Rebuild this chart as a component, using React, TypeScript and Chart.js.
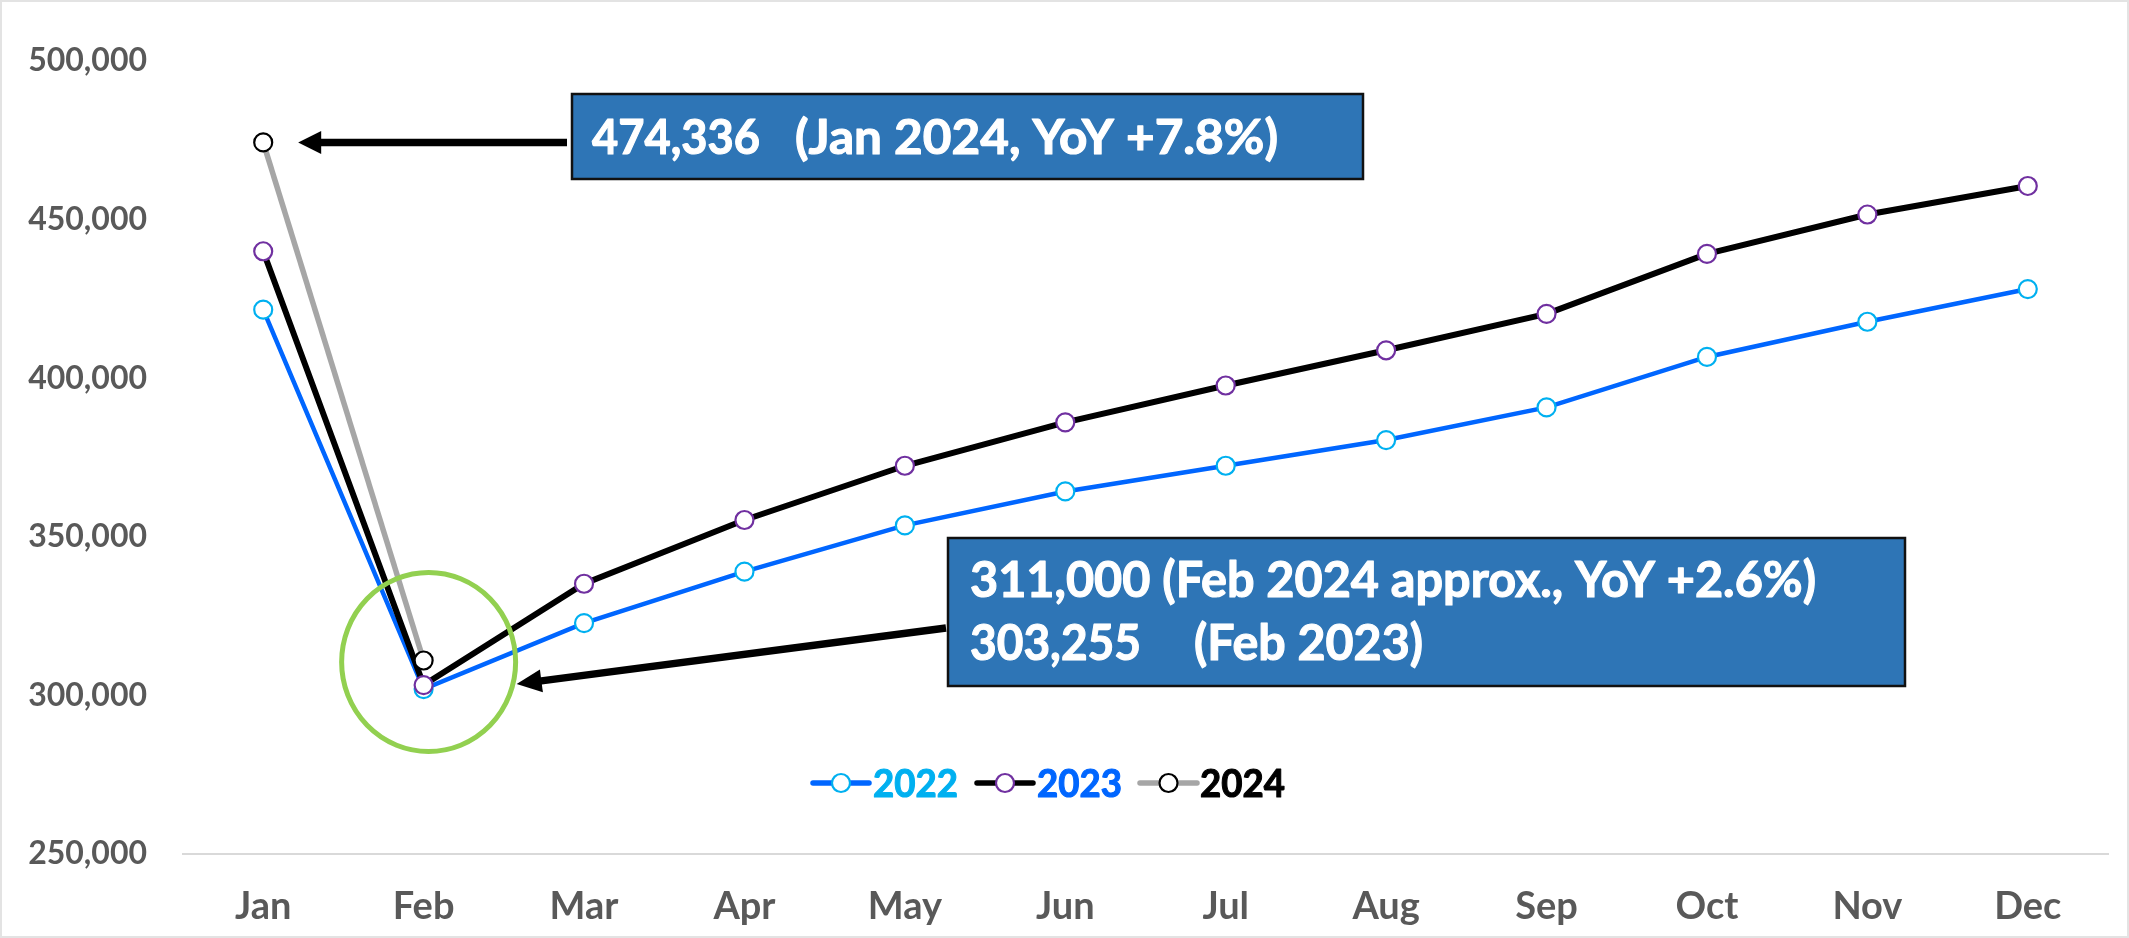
import React, { useEffect, useRef } from 'react';
import { Chart, registerables } from 'chart.js';

Chart.register(...registerables);

// ---------- data ----------
const months = ['Jan', 'Feb', 'Mar', 'Apr', 'May', 'Jun', 'Jul', 'Aug', 'Sep', 'Oct', 'Nov', 'Dec'];
const sales2022 = [421600, 302000, 322800, 339000, 353600, 364300, 372400, 380500, 390800, 406700, 417800, 428100];
const sales2023 = [440015, 303255, 335200, 355300, 372400, 386100, 397700, 408800, 420300, 439200, 451600, 460600];
const sales2024 = [474336, 311000, null, null, null, null, null, null, null, null, null, null];
const yTicks = [250000, 300000, 350000, 400000, 450000, 500000];
const seriesNames = ['2022', '2023', '2024'];
const noteJan = ['474,336', '(Jan 2024, YoY +7.8%)'];
const noteFebLine1 = '311,000 (Feb 2024 approx., YoY +2.6%)';
const noteFebLine2 = ['303,255', '(Feb 2023)'];

// ---------- styles ----------
const W = 2129;
const H = 938;
const FONT = 'Lato';
const WEIGHT = 'bold';
const AXIS_TEXT = '#595959';
const BOX_FILL = '#2E75B6';

const seriesStyle = [
  { line: '#0066FF', width: 4.5, marker: '#00B0F0', text: '#00B0F0' },
  { line: '#000000', width: 6, marker: '#7030A0', text: '#0066FF' },
  { line: '#A6A6A6', width: 5.5, marker: '#000000', text: '#000000' },
];

function fitText(ctx: CanvasRenderingContext2D, text: string, x0: number, x1: number, baseline: number, size: number, color: string) {
  ctx.save();
  ctx.font = `${WEIGHT} ${size}px ${FONT}`;
  ctx.fillStyle = color;
  ctx.strokeStyle = color;
  ctx.lineWidth = 1.1;
  ctx.lineJoin = 'round';
  ctx.textBaseline = 'alphabetic';
  ctx.textAlign = 'left';
  const w = ctx.measureText(text).width;
  const sx = (x1 - x0) / w;
  ctx.translate(x0, baseline);
  ctx.scale(sx, 1);
  ctx.fillText(text, 0, 0);
  ctx.strokeText(text, 0, 0);
  ctx.restore();
}

function drawArrow(ctx: CanvasRenderingContext2D, tx: number, ty: number, hx: number, hy: number, lw: number, headLen: number, headHalf: number) {
  const ang = Math.atan2(hy - ty, hx - tx);
  const cos = Math.cos(ang);
  const sin = Math.sin(ang);
  const bx = hx - headLen * cos;
  const by = hy - headLen * sin;
  ctx.save();
  ctx.strokeStyle = '#000';
  ctx.fillStyle = '#000';
  ctx.lineWidth = lw;
  ctx.lineCap = 'butt';
  ctx.beginPath();
  ctx.moveTo(tx, ty);
  ctx.lineTo(bx + 2 * cos, by + 2 * sin);
  ctx.stroke();
  ctx.beginPath();
  ctx.moveTo(hx, hy);
  ctx.lineTo(bx + headHalf * sin, by - headHalf * cos);
  ctx.lineTo(bx - headHalf * sin, by + headHalf * cos);
  ctx.closePath();
  ctx.fill();
  ctx.restore();
}

function drawBox(ctx: CanvasRenderingContext2D, x0: number, y0: number, x1: number, y1: number) {
  ctx.save();
  ctx.fillStyle = BOX_FILL;
  ctx.fillRect(x0, y0, x1 - x0, y1 - y0);
  ctx.strokeStyle = '#111';
  ctx.lineWidth = 2.5;
  ctx.strokeRect(x0, y0, x1 - x0, y1 - y0);
  ctx.restore();
}

const overlayPlugin = {
  id: 'overlay',
  afterDatasetsDraw(chart: any) {
    const ctx: CanvasRenderingContext2D = chart.ctx;
    const xs = chart.scales.x;
    const ys = chart.scales.y;

    // green highlight ellipse around Feb
    const febX = xs.getPixelForValue(1);
    ctx.save();
    ctx.strokeStyle = '#92D050';
    ctx.lineWidth = 5;
    ctx.beginPath();
    ctx.ellipse(febX + 5, 662, 87, 89.5, 0, 0, Math.PI * 2);
    ctx.stroke();
    ctx.restore();

    // box 1 + arrow
    const janX = xs.getPixelForValue(0);
    const janY = ys.getPixelForValue(sales2024[0]);
    drawArrow(ctx, 567, janY, janX + 35, janY, 7.5, 23, 11.5);
    drawBox(ctx, 572, 94, 1363, 179);
    fitText(ctx, noteJan[0], 592, 760, 154, 48, '#fff');
    fitText(ctx, noteJan[1], 795, 1278, 154, 48, '#fff');

    // box 2 + arrow
    const feb23Y = ys.getPixelForValue(sales2023[1]);
    drawArrow(ctx, 946, 628, febX + 93, feb23Y - 1, 7.5, 25, 11.5);
    drawBox(ctx, 948, 538, 1905, 686);
    fitText(ctx, noteFebLine1, 970, 1816, 597, 49, '#fff');
    fitText(ctx, noteFebLine2[0], 970, 1141, 660, 49, '#fff');
    fitText(ctx, noteFebLine2[1], 1194, 1423, 660, 49, '#fff');
  },
  afterDraw(chart: any) {
    const ctx: CanvasRenderingContext2D = chart.ctx;
    // legend inside plot
    const items = [
      { x0: 813, x1: 869, tx0: 873, tx1: 958 },
      { x0: 977, x1: 1033, tx0: 1037, tx1: 1122 },
      { x0: 1140, x1: 1197, tx0: 1200, tx1: 1285 },
    ];
    const ly = 783;
    items.forEach((it, i) => {
      const st = seriesStyle[i];
      ctx.save();
      ctx.strokeStyle = st.line;
      ctx.lineWidth = 5.5;
      ctx.lineCap = 'round';
      ctx.beginPath();
      ctx.moveTo(it.x0, ly);
      ctx.lineTo(it.x1, ly);
      ctx.stroke();
      ctx.beginPath();
      ctx.arc((it.x0 + it.x1) / 2, ly, 9, 0, Math.PI * 2);
      ctx.fillStyle = '#fff';
      ctx.fill();
      ctx.lineWidth = 2.2;
      ctx.strokeStyle = st.marker;
      ctx.stroke();
      ctx.restore();
      fitText(ctx, seriesNames[i], it.tx0, it.tx1, 797, 39, st.text);
    });

    // light frame around the picture
    ctx.save();
    ctx.strokeStyle = '#E3E3E3';
    ctx.lineWidth = 2;
    ctx.strokeRect(1, 1, W - 2, H - 2);
    ctx.restore();
  },
};

export default function App() {
  const canvasRef = useRef<HTMLCanvasElement | null>(null);

  useEffect(() => {
    let chart: Chart | null = null;
    let cancelled = false;
    const build = () => {
      if (cancelled || !canvasRef.current) return;
      const datasets = [sales2022, sales2023, sales2024].map((data, i) => ({
        label: seriesNames[i],
        data,
        borderColor: seriesStyle[i].line,
        borderWidth: seriesStyle[i].width,
        pointBackgroundColor: '#ffffff',
        pointBorderColor: seriesStyle[i].marker,
        pointBorderWidth: 2.2,
        pointRadius: 9,
        pointHoverRadius: 9,
        tension: 0,
        order: 3 - i,
      }));
      chart = new Chart(canvasRef.current, {
        type: 'line',
        data: { labels: months, datasets },
        options: {
          responsive: false,
          animation: false,
          events: [],
          layout: { padding: { left: 0, right: 21, top: 61, bottom: 0 } },
          plugins: { legend: { display: false }, tooltip: { enabled: false } },
          scales: {
            x: {
              offset: true,
              grid: { display: false, drawTicks: false },
              border: { display: true, color: '#D9D9D9', width: 2 },
              ticks: {
                font: { family: FONT, size: 38, weight: 'bold' },
                color: AXIS_TEXT,
                padding: 30,
                maxRotation: 0,
                autoSkip: false,
              },
              afterFit: (s: any) => {
                s.height = 84;
              },
            },
            y: {
              min: yTicks[0],
              max: yTicks[yTicks.length - 1],
              grid: { display: false, drawTicks: false },
              border: { display: false },
              afterBuildTicks: (s: any) => {
                s.ticks = yTicks.map((v) => ({ value: v }));
              },
              ticks: {
                padding: 36,
                font: { family: FONT, size: 32, weight: 'bold' },
                color: AXIS_TEXT,
                callback: (v: any) => Number(v).toLocaleString('en-US'),
              },
              afterFit: (s: any) => {
                s.width = 183;
              },
            },
          },
        },
        plugins: [overlayPlugin],
      });
    };
    const fontsReady = (document as any).fonts
      ? Promise.all([
          (document as any).fonts.load(`bold 40px ${FONT}`),
          (document as any).fonts.load(`bold 32px ${FONT}`),
        ]).catch(() => null)
      : Promise.resolve(null);
    fontsReady.then(build);
    return () => {
      cancelled = true;
      if (chart) chart.destroy();
    };
  }, []);

  return (
    <div style={{ position: 'absolute', left: 0, top: 0, width: W, height: H, background: '#ffffff' }}>
      <canvas ref={canvasRef} width={W} height={H} style={{ display: 'block' }} />
    </div>
  );
}
